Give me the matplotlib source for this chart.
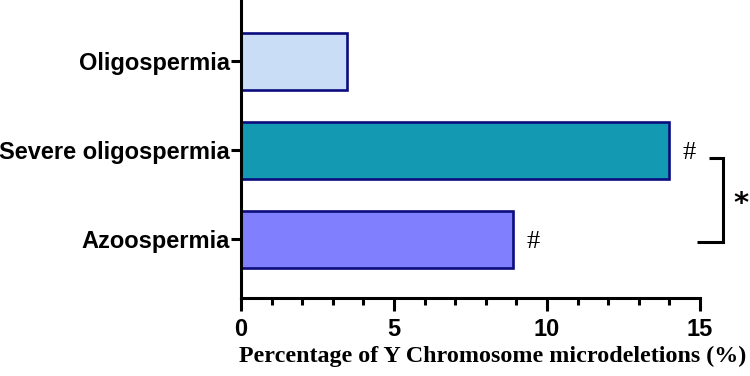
import matplotlib
matplotlib.use('Agg')
import matplotlib.pyplot as plt
from matplotlib.ticker import MultipleLocator

# datos del grafico (de abajo hacia arriba)
categories = ['Azoospermia', 'Severe oligospermia', 'Oligospermia']
values = [8.9, 14.0, 3.45]
colors = ['#8080FF', '#1399B2', '#C9DDF6']
marks = ['#', '#', '']

fig = plt.figure(figsize=(7.5, 3.76), dpi=100)
ax = fig.add_axes([0.3213, 0.207, 0.612, 0.793])

pos = list(range(len(categories)))
ax.barh(pos, values, height=0.64, color=colors, edgecolor='#0C0C7E', linewidth=1.9)

ax.set_xlim(0, 15)
ax.set_ylim(-0.66, 2.69)
ax.set_yticks(pos)
ax.set_yticklabels(categories, fontfamily='Liberation Sans', fontweight='bold', fontsize=17)
ax.xaxis.set_major_locator(MultipleLocator(5))
ax.xaxis.set_minor_locator(MultipleLocator(1))
for lab in ax.get_xticklabels():
    lab.set_fontfamily('Liberation Sans')
    lab.set_fontweight('bold')
    lab.set_fontsize(17)

ax.spines['top'].set_visible(False)
ax.spines['right'].set_visible(False)
ax.spines['left'].set_linewidth(2.2)
ax.spines['bottom'].set_linewidth(2.2)
ax.tick_params(axis='y', length=7, width=2.2, pad=1)
ax.tick_params(axis='x', which='major', length=9, width=2.2, pad=5)
ax.tick_params(axis='x', which='minor', length=5, width=2.2)

# marcas de significancia
for p, v, m in zip(pos, values, marks):
    if m:
        ax.text(v + 0.65, p - 0.03, m, fontfamily='Liberation Serif', fontsize=19,
                ha='center', va='center')

# corchete entre severe y azoo
bx = 15.75
ax.plot([15.3, bx, bx, 14.9], [0.92, 0.92, -0.03, -0.03], color='black', lw=2.2,
        clip_on=False, solid_capstyle='butt', solid_joinstyle='miter')
ax.text(bx + 0.6, 0.4, '*', fontfamily='DejaVu Sans', fontweight='bold', fontsize=21,
        ha='center', va='center')

ax.set_xlabel('Percentage of Y Chromosome microdeletions (%)', fontfamily='Liberation Serif',
              fontweight='bold', fontsize=17.3)
ax.xaxis.set_label_coords(0.548, -0.16)

plt.savefig('out.png')
plt.close()
